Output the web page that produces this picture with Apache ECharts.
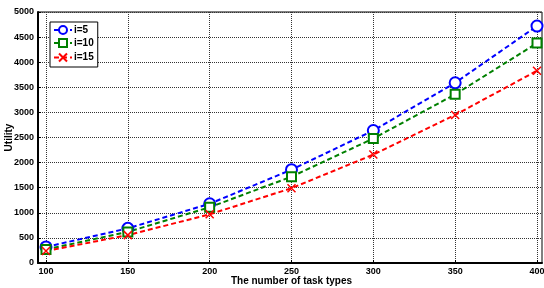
<!DOCTYPE html>
<html><head><meta charset="utf-8">
<script src="https://cdn.jsdelivr.net/npm/echarts@6/dist/echarts.min.js"></script>
<style>html,body{margin:0;padding:0;background:#fff}#c{width:544px;height:288px}</style>
</head><body><div id="c"></div>
<script>
const taskTypes = [100, 150, 200, 250, 300, 350, 400];
const utilI5  = [320, 690, 1180, 1860, 2640, 3590, 4720];
const utilI10 = [270, 620, 1110, 1720, 2480, 3360, 4380];
const utilI15 = [240, 555, 970, 1490, 2160, 2950, 3830];
const seriesNames = ['i=5', 'i=10', 'i=15'];

const pairs = arr => taskTypes.map((x, k) => [x, arr[k]]);
const font = 'Liberation Sans, Arial, sans-serif';
const crossPath = 'path://M0,0L10,10M10,0L0,10';
const plain = v => String(v);

const chart = echarts.init(document.getElementById('c'));
const mk = (name, data, color, symbol, size) => ({
  name, type: 'line', xAxisIndex: 1, yAxisIndex: 1, data: pairs(data),
  symbol, symbolSize: size, showSymbol: true,
  lineStyle: { color, width: 2, type: [5, 3] },
  itemStyle: { color: symbol === crossPath ? 'none' : color, borderColor: color, borderWidth: 1.5 },
  emphasis: { disabled: true }, animation: false, z: 5
});
chart.setOption({
  animation: false,
  textStyle: { fontFamily: font },
  grid: [
    { left: 38, right: 2, top: 12, bottom: 25, outerBoundsMode: 'none', containLabel: false, show: true, borderColor: '#000', borderWidth: 1, backgroundColor: '#fff' },
    { left: 46, right: 7, top: 12, bottom: 25, outerBoundsMode: 'none', containLabel: false }
  ],
  xAxis: [
    { gridIndex: 0, type: 'value', min: 0, max: 1, axisLabel: { show: false }, axisTick: { show: false }, splitLine: { show: false },
      axisLine: { lineStyle: { color: '#000', width: 2 } } },
    { gridIndex: 1, type: 'value', min: 100, max: 400, interval: 50,
      axisLine: { show: false },
      axisTick: { inside: true, length: 3, lineStyle: { color: '#000' } },
      axisLabel: { color: '#000', fontSize: 9, fontWeight: 'bold', margin: 4, fontFamily: font, formatter: plain, showMinLabel: true, showMaxLabel: true },
      splitLine: { show: true, lineStyle: { color: '#333', type: [1, 1], width: 1 } },
      name: 'The number of task types', nameLocation: 'middle', nameGap: 13, nameMoveOverlap: false,
      nameTextStyle: { color: '#000', fontSize: 10, fontWeight: 'bold', fontFamily: font } }
  ],
  yAxis: [
    { gridIndex: 0, type: 'value', min: 0, max: 5000, interval: 500,
      axisLine: { show: true, lineStyle: { color: '#000', width: 2 } },
      axisTick: { show: true, inside: true, length: 3, lineStyle: { color: '#000' } },
      axisLabel: { color: '#000', fontSize: 9, fontWeight: 'bold', margin: 4, fontFamily: font, formatter: plain },
      splitLine: { show: true, lineStyle: { color: '#333', type: [1, 1], width: 1 } },
      name: 'Utility', nameLocation: 'middle', nameGap: 24, nameMoveOverlap: false,
      nameTextStyle: { color: '#000', fontSize: 10, fontWeight: 'bold', fontFamily: font } },
    { gridIndex: 1, type: 'value', min: 0, max: 5000, interval: 500, show: false, splitLine: { show: false } }
  ],
  legend: {
    show: true, orient: 'vertical', left: 50, top: 22,
    data: seriesNames,
    backgroundColor: '#fff', borderColor: '#000', borderWidth: 1,
    padding: [3, 4, 3, 3], itemGap: 3, itemWidth: 18, itemHeight: 10,
    textStyle: { color: '#000', fontSize: 10, fontWeight: 'bold', fontFamily: font, padding: [0, 0, 0, -3] }
  },
  series: [
    mk(seriesNames[0], utilI5, '#0000ff', 'emptyCircle', 11),
    mk(seriesNames[1], utilI10, '#008000', 'emptyRect', 9),
    mk(seriesNames[2], utilI15, '#ff0000', crossPath, 8)
  ]
});
</script></body></html>
